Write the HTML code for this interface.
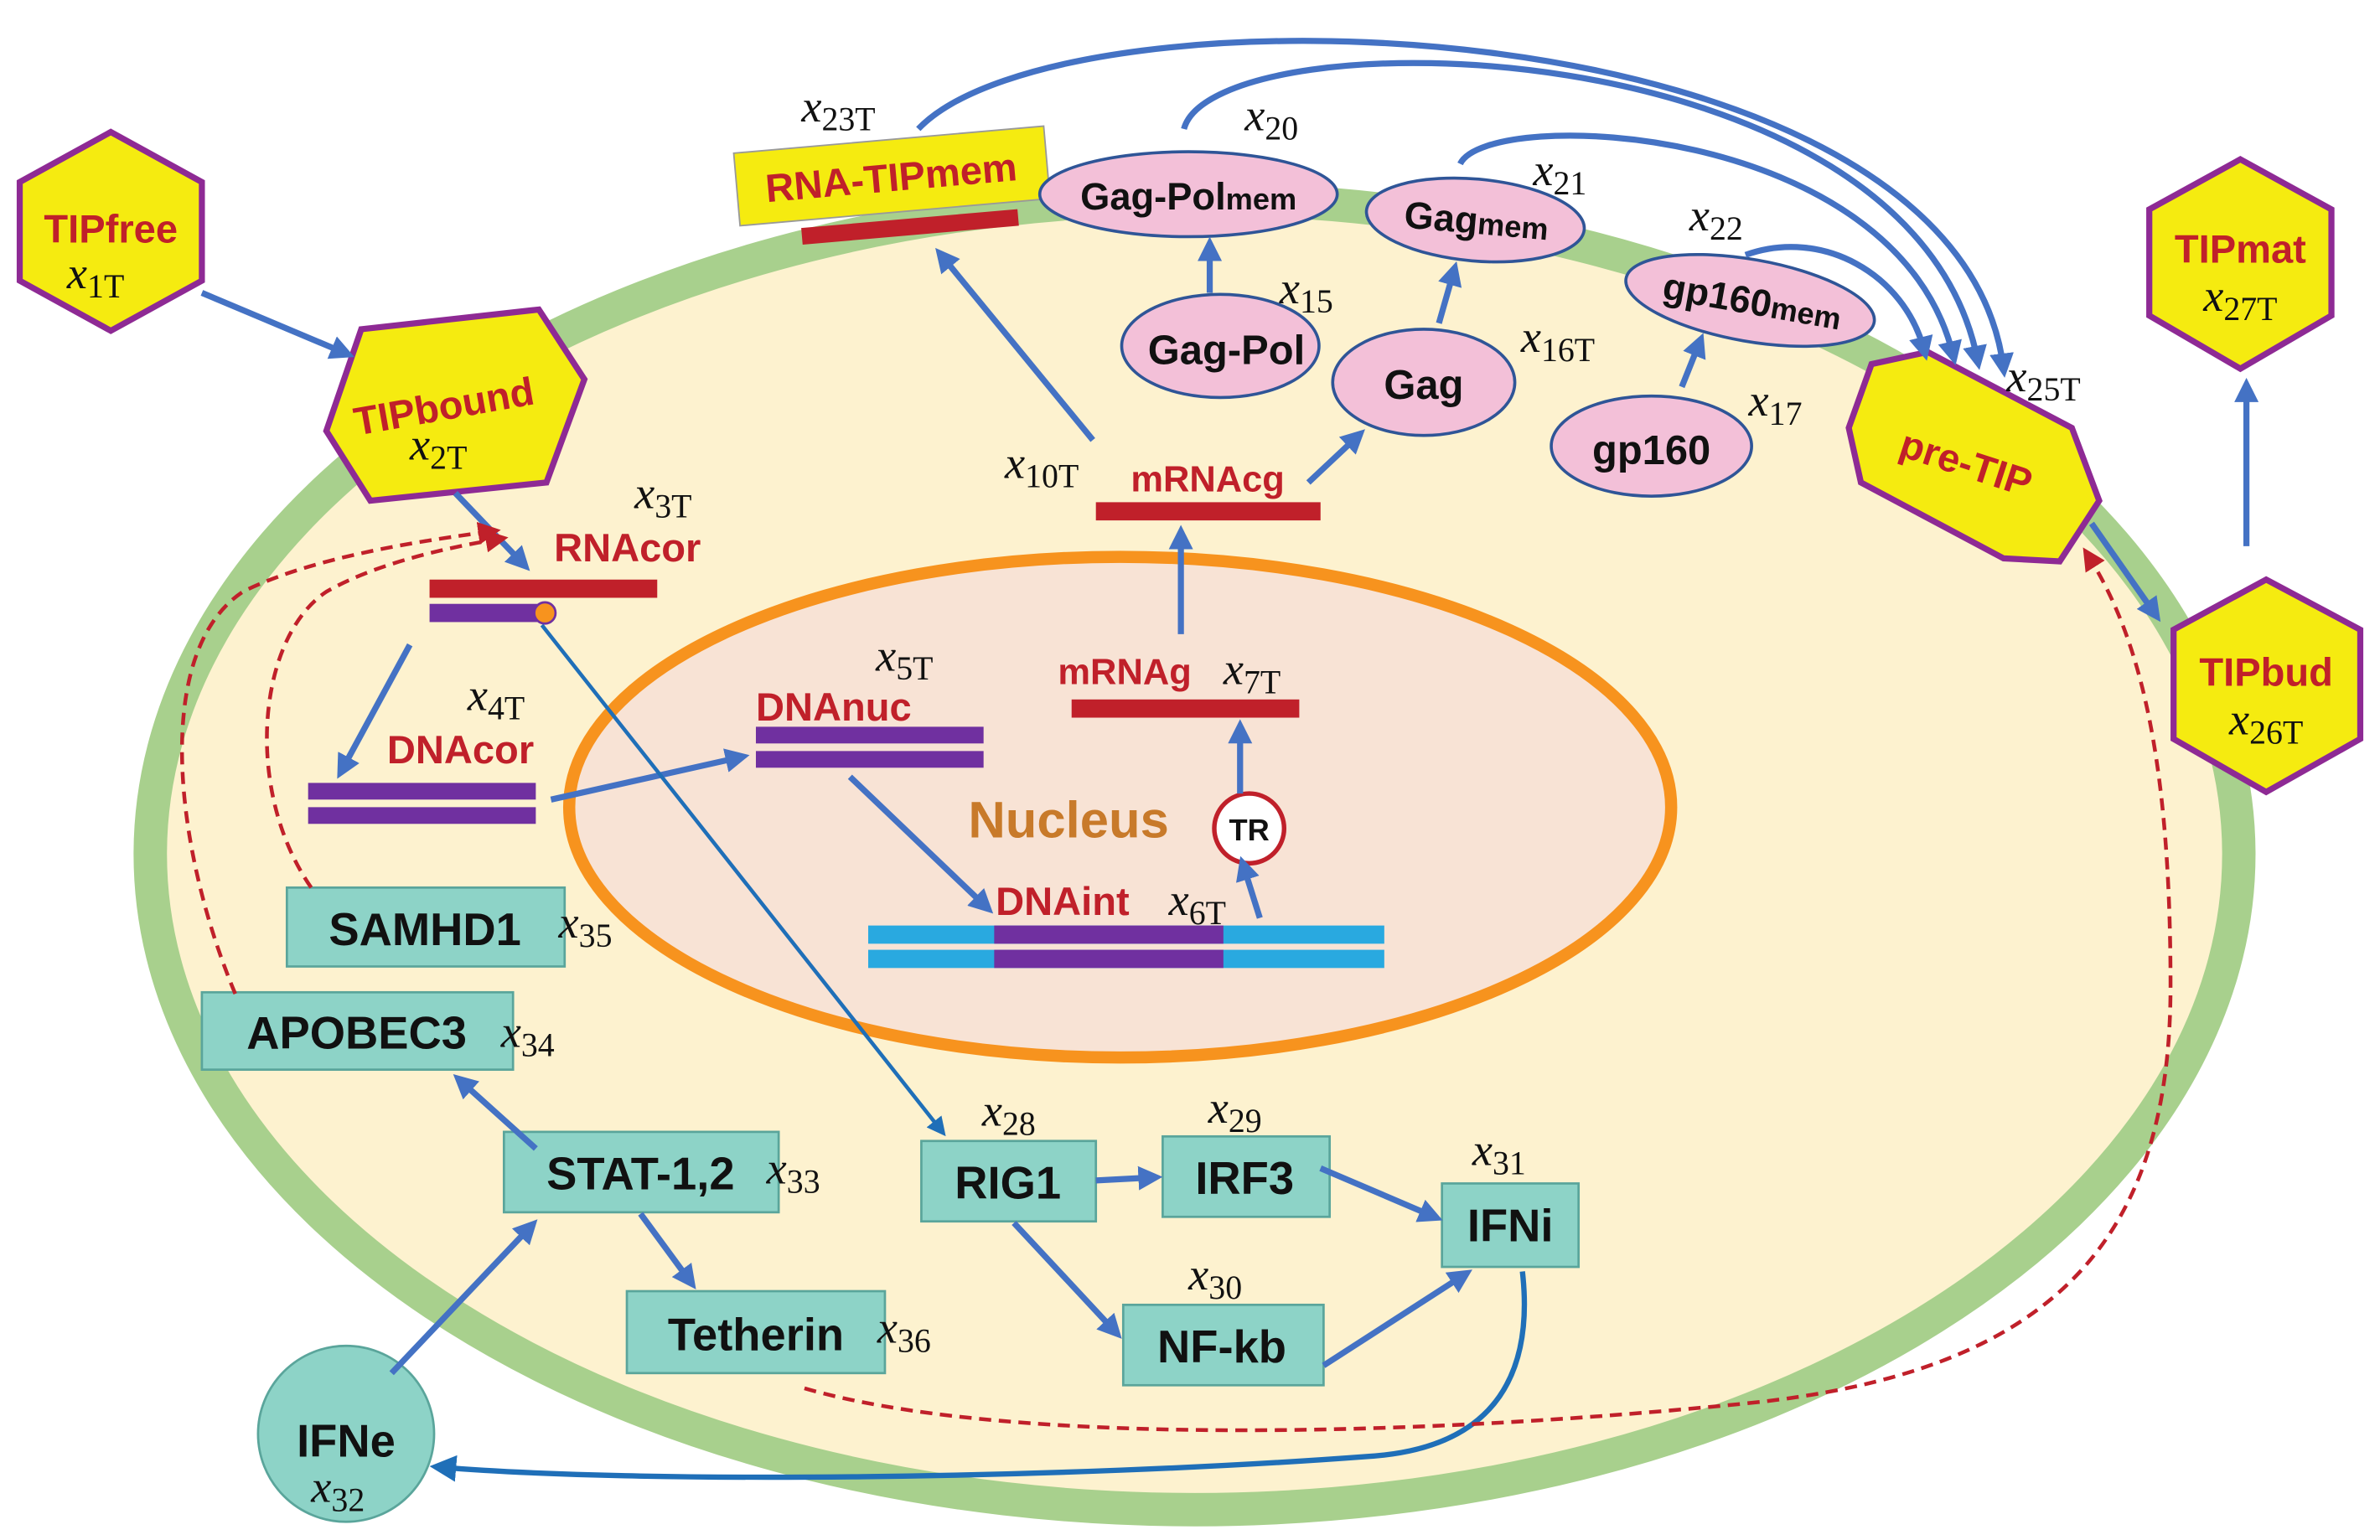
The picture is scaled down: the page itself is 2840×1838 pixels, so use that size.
<!DOCTYPE html>
<html><head><meta charset="utf-8"><style>
html,body{margin:0;padding:0;background:#fff;}
svg{display:block}
.lab{font-family:"Liberation Sans",sans-serif;font-weight:bold;fill:#c0202a;}
.blk{font-family:"Liberation Sans",sans-serif;font-weight:bold;fill:#111;}
.x{font-family:"Liberation Serif",serif;font-style:italic;fill:#111;font-size:30px;}
.s{font-style:normal;font-size:22px;}
</style></head><body>
<svg width="2840" height="1838" viewBox="0 0 1568 1015" preserveAspectRatio="none" xmlns="http://www.w3.org/2000/svg">
<defs>
<marker id="a" markerWidth="4" markerHeight="4" refX="2.5" refY="2" orient="auto" markerUnits="strokeWidth"><path d="M0,0 L4,2 L0,4 Z" fill="#4472c4"/></marker>
<marker id="ab" markerWidth="5" markerHeight="5" refX="3" refY="2.5" orient="auto" markerUnits="strokeWidth"><path d="M0,0 L5,2.5 L0,5 Z" fill="#1f6fb8"/></marker>
<marker id="ar" markerWidth="6" markerHeight="6" refX="4" refY="3" orient="auto" markerUnits="strokeWidth"><path d="M0,0 L6,3 L0,6 Z" fill="#c0202a"/></marker>
</defs>
<rect width="1568" height="1015" fill="#fff"/>
<!-- cell -->
<ellipse cx="787" cy="563" rx="688" ry="432" fill="#fdf2cf" stroke="#a8d08d" stroke-width="22"/>
<!-- nucleus -->
<ellipse cx="738" cy="532" rx="363" ry="165" fill="#f8e3d5" stroke="#f7931e" stroke-width="8"/>
<text x="704" y="552" text-anchor="middle" font-family="Liberation Sans" font-weight="bold" font-size="34" fill="#c87a2a">Nucleus</text>

<!-- hexagons -->
<g stroke="#8e2a94" stroke-width="4" fill="#f5eb10">
<polygon points="73,87 133,120 133,185 73,218 13,185 13,120"/>
<polygon points="1476,105 1536,138 1536,208 1476,243 1416,208 1416,138"/>
<polygon points="1493,382 1555,415 1555,487 1493,522 1432,487 1432,415"/>
<polygon points="238,217 355,204 385,250 360,318 244,330 215,284"/>
<polygon points="1233,240 1270,232 1365,282 1383,330 1357,370 1320,368 1226,318 1218,282" />
</g>
<text class="lab" x="73" y="160" text-anchor="middle" font-size="26">TIPfree</text>
<text class="x" x="63" y="190" text-anchor="middle">x<tspan class="s" dy="6">1T</tspan></text>
<text class="lab" x="1476" y="173" text-anchor="middle" font-size="26">TIPmat</text>
<text class="x" x="1476" y="205" text-anchor="middle">x<tspan class="s" dy="6">27T</tspan></text>
<text class="lab" x="1493" y="452" text-anchor="middle" font-size="26">TIPbud</text>
<text class="x" x="1493" y="484" text-anchor="middle">x<tspan class="s" dy="6">26T</tspan></text>
<text class="lab" font-size="26" transform="translate(235,287) rotate(-10)">TIPbound</text>
<text class="x" x="270" y="303">x<tspan class="s" dy="6">2T</tspan></text>
<text class="lab" font-size="26" transform="translate(1250,300) rotate(18)">pre-TIP</text>
<text class="x" x="1322" y="258">x<tspan class="s" dy="6">25T</tspan></text>

<!-- RNA-TIPmem box -->
<g transform="rotate(-5 587 115)">
<rect x="485" y="92" width="205" height="48" fill="#f5eb10" stroke="#999" stroke-width="1"/>
<text class="lab" x="587" y="126" text-anchor="middle" font-size="26">RNA-TIPmem</text>
<rect x="525" y="145" width="143" height="11" fill="#c0202a"/>
</g>
<text class="x" x="528" y="80">x<tspan class="s" dy="6">23T</tspan></text>

<!-- ellipses -->
<g fill="#f3c0d8" stroke="#2f5597" stroke-width="2">
<ellipse cx="783" cy="128" rx="98" ry="28"/>
<ellipse cx="972" cy="145" rx="72" ry="27" transform="rotate(5 972 145)"/>
<ellipse cx="1153" cy="198" rx="83" ry="27" transform="rotate(10 1153 198)"/>
<ellipse cx="804" cy="228" rx="65" ry="34"/>
<ellipse cx="938" cy="252" rx="60" ry="35"/>
<ellipse cx="1088" cy="294" rx="66" ry="33"/>
</g>
<text class="blk" x="783" y="138" text-anchor="middle" font-size="25">Gag-Pol<tspan font-size="20">mem</tspan></text>
<text class="blk" text-anchor="middle" font-size="25" transform="translate(972,154) rotate(5)">Gag<tspan font-size="20">mem</tspan></text>
<text class="blk" text-anchor="middle" font-size="25" transform="translate(1153,207) rotate(10)">gp160<tspan font-size="20">mem</tspan></text>
<text class="blk" x="808" y="240" text-anchor="middle" font-size="27">Gag-Pol</text>
<text class="blk" x="938" y="263" text-anchor="middle" font-size="27">Gag</text>
<text class="blk" x="1088" y="306" text-anchor="middle" font-size="27">gp160</text>
<text class="x" x="820" y="86">x<tspan class="s" dy="6">20</tspan></text>
<text class="x" x="1010" y="122">x<tspan class="s" dy="6">21</tspan></text>
<text class="x" x="1113" y="152">x<tspan class="s" dy="6">22</tspan></text>
<text class="x" x="843" y="200">x<tspan class="s" dy="6">15</tspan></text>
<text class="x" x="1002" y="232">x<tspan class="s" dy="6">16T</tspan></text>
<text class="x" x="1152" y="274">x<tspan class="s" dy="6">17</tspan></text>

<!-- bars -->
<rect x="722" y="331" width="148" height="12" fill="#c0202a"/>
<text class="lab" x="745" y="324" font-size="24">mRNAcg</text>
<text class="x" x="662" y="315">x<tspan class="s" dy="6">10T</tspan></text>
<rect x="706" y="461" width="150" height="12" fill="#c0202a"/>
<text class="lab" x="697" y="451" font-size="24">mRNAg</text>
<text class="x" x="806" y="451">x<tspan class="s" dy="6">7T</tspan></text>
<rect x="283" y="382" width="150" height="12" fill="#c0202a"/>
<rect x="283" y="398" width="75" height="12" fill="#7030a0"/>
<circle cx="359" cy="404" r="7" fill="#f7931e" stroke="#7030a0" stroke-width="1.5"/>
<text class="lab" x="365" y="370" font-size="26">RNAcor</text>
<text class="x" x="418" y="335">x<tspan class="s" dy="6">3T</tspan></text>
<rect x="203" y="516" width="150" height="11" fill="#7030a0"/>
<rect x="203" y="532" width="150" height="11" fill="#7030a0"/>
<text class="lab" x="255" y="503" font-size="26">DNAcor</text>
<text class="x" x="308" y="468">x<tspan class="s" dy="6">4T</tspan></text>
<rect x="498" y="479" width="150" height="11" fill="#7030a0"/>
<rect x="498" y="495" width="150" height="11" fill="#7030a0"/>
<text class="lab" x="498" y="475" font-size="26">DNAnuc</text>
<text class="x" x="577" y="442">x<tspan class="s" dy="6">5T</tspan></text>
<rect x="572" y="610" width="340" height="12" fill="#29a9e0"/>
<rect x="572" y="626" width="340" height="12" fill="#29a9e0"/>
<rect x="655" y="610" width="151" height="12" fill="#7030a0"/>
<rect x="655" y="626" width="151" height="12" fill="#7030a0"/>
<text class="lab" x="656" y="603" font-size="26">DNAint</text>
<text class="x" x="770" y="603">x<tspan class="s" dy="6">6T</tspan></text>
<circle cx="823" cy="546" r="23" fill="#fff" stroke="#c0202a" stroke-width="3"/>
<text class="blk" x="823" y="554" text-anchor="middle" font-size="20">TR</text>

<!-- teal boxes -->
<g fill="#8dd3c7" stroke="#5aa59b" stroke-width="1.5">
<rect x="189" y="585" width="183" height="52"/>
<rect x="133" y="654" width="205" height="51"/>
<rect x="332" y="746" width="181" height="53"/>
<rect x="413" y="851" width="170" height="54"/>
<rect x="607" y="752" width="115" height="53"/>
<rect x="766" y="749" width="110" height="53"/>
<rect x="950" y="780" width="90" height="55"/>
<rect x="740" y="860" width="132" height="53"/>
<circle cx="228" cy="945" r="58"/>
</g>
<g class="blk" font-size="30" text-anchor="middle">
<text x="280" y="623">SAMHD1</text>
<text x="235" y="691">APOBEC3</text>
<text x="422" y="784">STAT-1,2</text>
<text x="498" y="890">Tetherin</text>
<text x="664" y="790">RIG1</text>
<text x="820" y="787">IRF3</text>
<text x="995" y="818">IFNi</text>
<text x="805" y="898">NF-kb</text>
<text x="228" y="960">IFNe</text>
</g>
<text class="x" x="205" y="990">x<tspan class="s" dy="6">32</tspan></text>
<text class="x" x="368" y="618">x<tspan class="s" dy="6">35</tspan></text>
<text class="x" x="330" y="690">x<tspan class="s" dy="6">34</tspan></text>
<text class="x" x="505" y="780">x<tspan class="s" dy="6">33</tspan></text>
<text class="x" x="578" y="885">x<tspan class="s" dy="6">36</tspan></text>
<text class="x" x="647" y="742">x<tspan class="s" dy="6">28</tspan></text>
<text class="x" x="796" y="740">x<tspan class="s" dy="6">29</tspan></text>
<text class="x" x="970" y="768">x<tspan class="s" dy="6">31</tspan></text>
<text class="x" x="783" y="850">x<tspan class="s" dy="6">30</tspan></text>

<!-- arrows -->
<g stroke="#4472c4" stroke-width="4" fill="none" marker-end="url(#a)">
<line x1="133" y1="193" x2="228" y2="233"/>
<line x1="300" y1="325" x2="345" y2="372"/>
<line x1="270" y1="425" x2="225" y2="508"/>
<line x1="363" y1="527" x2="488" y2="499"/>
<line x1="560" y1="512" x2="650" y2="598"/>
<line x1="830" y1="605" x2="819" y2="570"/>
<line x1="817" y1="523" x2="817" y2="480"/>
<line x1="778" y1="418" x2="778" y2="352"/>
<line x1="720" y1="290" x2="620" y2="168"/>
<line x1="862" y1="318" x2="895" y2="287"/>
<line x1="797" y1="193" x2="797" y2="162"/>
<line x1="948" y1="213" x2="958" y2="178"/>
<line x1="1108" y1="255" x2="1120" y2="225"/>
<line x1="1378" y1="345" x2="1420" y2="405"/>
<line x1="1480" y1="360" x2="1480" y2="255"/>
<line x1="353" y1="757" x2="303" y2="712"/>
<line x1="422" y1="800" x2="455" y2="845"/>
<line x1="258" y1="905" x2="350" y2="808"/>
<line x1="722" y1="778" x2="760" y2="776"/>
<line x1="668" y1="806" x2="735" y2="878"/>
<line x1="870" y1="770" x2="945" y2="802"/>
<line x1="872" y1="900" x2="965" y2="840"/>
<path d="M605,85 C700,-15 1290,0 1320,243"/>
<path d="M780,85 C800,10 1260,15 1303,238"/>
<path d="M962,108 C980,70 1250,80 1287,235"/>
<path d="M1150,168 C1200,150 1255,180 1268,232"/>
</g>
<line x1="357" y1="412" x2="620" y2="745" stroke="#1f6fb8" stroke-width="2.5" marker-end="url(#ab)"/>
<path d="M1003,838 C1010,900 990,955 900,960 C700,975 420,978 290,967" stroke="#1f6fb8" stroke-width="3.5" fill="none" marker-end="url(#ab)"/>
<!-- dashed -->
<g stroke="#c0202a" stroke-width="2.5" fill="none" stroke-dasharray="8,5" marker-end="url(#ar)">
<path d="M205,585 C160,520 170,420 215,390 C250,370 300,360 330,355"/>
<path d="M155,655 C115,560 100,430 160,390 C210,365 290,355 325,350"/>
<path d="M530,915 C650,950 900,950 1150,925 C1350,905 1430,820 1430,650 C1430,500 1410,420 1375,365"/>
</g>
</svg>
</body></html>
